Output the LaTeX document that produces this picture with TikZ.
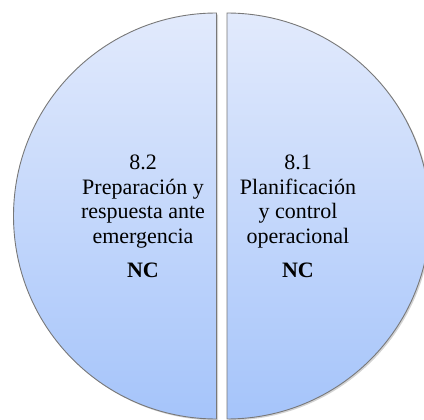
\documentclass[tikz,border=0pt]{standalone}
\usepackage{fontspec}
\setmainfont{Liberation Serif}
\usetikzlibrary{shadows}
\definecolor{topblue}{RGB}{226,234,252}
\definecolor{botblue}{RGB}{165,196,250}
\definecolor{edgegray}{RGB}{120,120,120}
\tikzset{
  half/.style={draw=edgegray, line width=0.9bp, top color=topblue, bottom color=botblue,
    drop shadow={opacity=0.35, shadow xshift=1.5bp, shadow yshift=-1.5bp}},
  lbl/.style={align=center, inner sep=0pt, font=\fontsize{22bp}{24.5bp}\selectfont, text=black},
}
\begin{document}
\begin{tikzpicture}[x=1bp,y=1bp]
\useasboundingbox (0,0) rectangle (424,420);
\begin{scope}
\clip (0,0) rectangle (424,420);
\path[half] (216.5,407) arc[start angle=90, end angle=270, radius=203] -- cycle;
\path[half] (227,407) arc[start angle=90, end angle=-90, radius=203] -- cycle;
\end{scope}
\node[lbl, anchor=base] (l) at (143,177) {8.2\\Preparación y\\respuesta ante\\emergencia};
\node[lbl, anchor=base, font=\fontsize{22bp}{24.5bp}\selectfont\bfseries] (lnc) at (143,143) {NC};
\node[lbl, anchor=base] (r) at (298,177) {8.1\\Planificación\\y control\\operacional};
\node[lbl, anchor=base, font=\fontsize{22bp}{24.5bp}\selectfont\bfseries] (rnc) at (298,143) {NC};
\end{tikzpicture}
\end{document}
